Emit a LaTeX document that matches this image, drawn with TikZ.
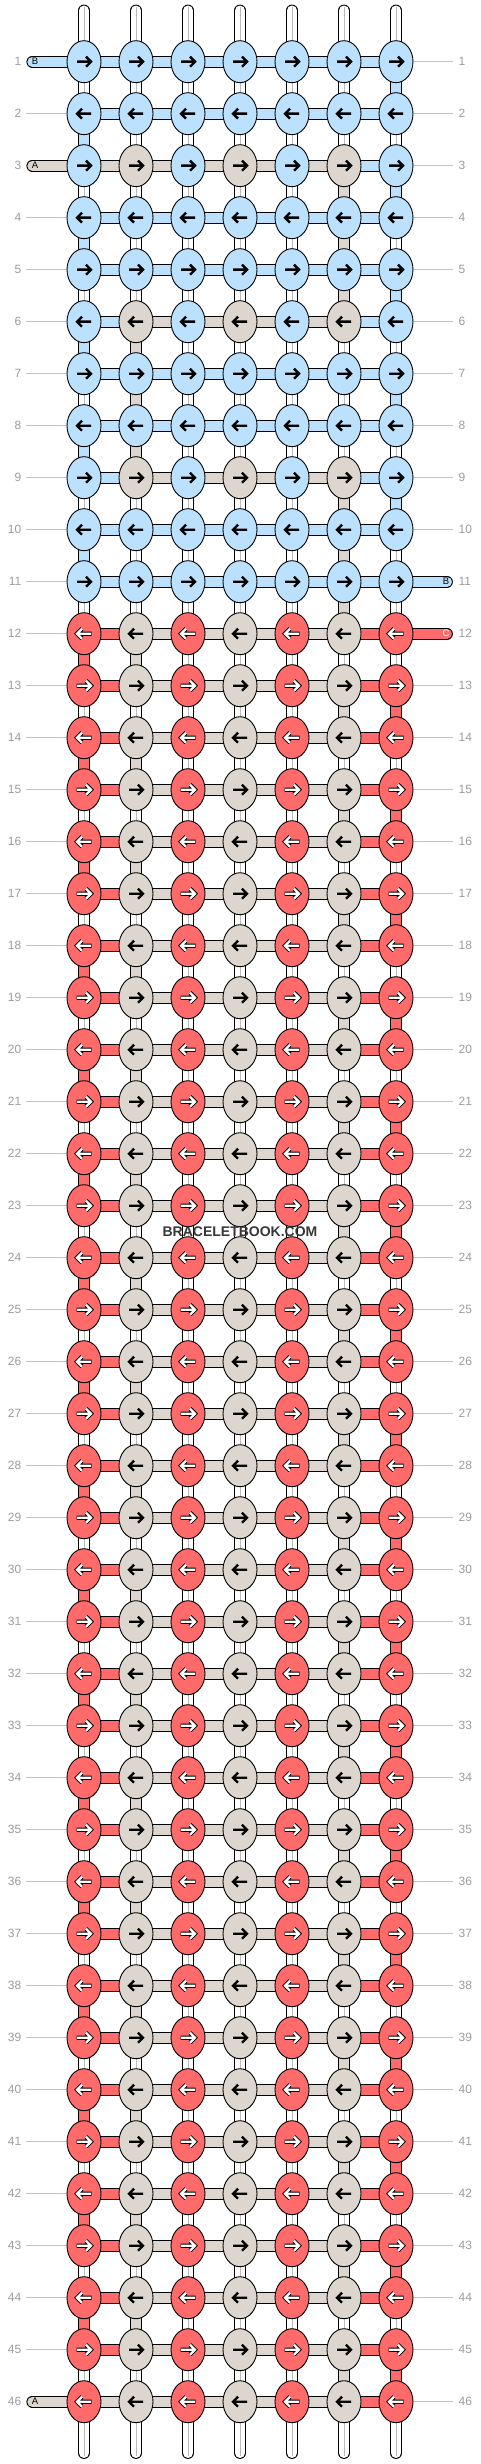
\documentclass[tikz,border=0pt]{standalone}
\usepackage{fontspec}
\setmainfont{Liberation Sans}
\usetikzlibrary{shapes.geometric}
\definecolor{bl}{RGB}{187,225,255}
\definecolor{tn}{RGB}{221,214,206}
\definecolor{rd}{RGB}{255,107,107}
\definecolor{labgray}{RGB}{155,155,155}
\definecolor{linegray}{RGB}{195,195,195}
\definecolor{midgray}{RGB}{185,185,185}
\definecolor{wmark}{RGB}{55,55,55}
\pgfdeclarelayer{bg}
\pgfsetlayers{bg,main}
\tikzset{
 knot/.style={ellipse, draw=black, line width=0.9pt, minimum width=34pt, minimum height=42pt, inner sep=0pt},
 conn/.style={draw=black, line width=0.9pt, double distance=10pt},
 mid/.style={draw=midgray, line width=0.8pt},
 gl/.style={draw=linegray, line width=0.8pt},
 lab/.style={text=labgray, font=\fontsize{12}{12}\selectfont, inner sep=0pt},
 taillab/.style={font=\fontsize{9.5}{9.5}\selectfont, inner sep=0pt},
 arrbk/.style={draw=black, line width=2.4pt},
 arrout/.style={draw=black, line width=4.2pt},
 arrwt/.style={draw=white, line width=2.2pt},
}
\def\allB{bl/0,bl/0,bl/0,bl/0,bl/0,bl/0,bl/0}
\def\BT{bl/0,tn/0,bl/0,tn/0,bl/0,tn/0,bl/0}
\def\RT{rd/1,tn/0,rd/1,tn/0,rd/1,tn/0,rd/1}
\def\hB{bl,bl,bl,bl,bl,bl}
\def\hBT{bl,tn,tn,tn,tn,bl}
\def\hTB{tn,tn,tn,tn,tn,bl}
\def\hRT{rd,tn,tn,tn,tn,rd}
\def\hTR{tn,tn,tn,tn,tn,rd}
\newcommand\knotrow[2]{%
  \pgfmathsetmacro\yy{61.7+52*(#1-1)}%
  \ifodd#1\relax\def\dd{1}\else\def\dd{-1}\fi
  \foreach \c/\a [count=\j] in #2 {%
    \node[knot,fill=\c] (k-#1-\j) at ({84+52*(\j-1)},\yy) {};
    \begin{scope}[shift={(k-#1-\j.center)},xscale=\dd]
      \ifnum\a=1
        \draw[arrout] (-7.5,0)--(6.5,0) (2,-5)--(7,0)--(2,5);
        \draw[arrwt] (-7,0)--(6.5,0) (2,-5)--(7,0)--(2,5);
      \else
        \draw[arrbk] (-7,0)--(6.5,0) (2,-5)--(7,0)--(2,5);
      \fi
    \end{scope}
  }%
}
\newcommand\hrow[2]{%
  \foreach \c [count=\j] in #2 {%
    \pgfmathtruncatemacro\jn{\j+1}%
    \draw[conn,double=\c] (k-#1-\j.center) -- (k-#1-\jn.center);
  }}
\newcommand\vc[3]{%
  \pgfmathtruncatemacro\inx{#1+1}%
  \draw[conn,double=#3] (k-#1-#2.center) -- (k-\inx-#2.center);}
\begin{document}
\begin{tikzpicture}[x=1pt,y=-1pt]
\useasboundingbox (0,0) rectangle (480,2464);
% knots
\foreach \i in {1,2,4,5,7,8,10,11} {\knotrow{\i}{\allB}}
\foreach \i in {3,6,9} {\knotrow{\i}{\BT}}
\foreach \i in {12,...,46} {\knotrow{\i}{\RT}}
% labels
\foreach \i in {1,...,46} {
  \pgfmathsetmacro\yy{61.7+52*(\i-1)}
  \node[lab,anchor=east] (ln-\i) at (21.5,\yy) {\i};
  \node[lab,anchor=west] (rn-\i) at (458.5,\yy) {\i};
  \coordinate (gl-\i) at (26,\yy);
  \coordinate (gr-\i) at (453.3,\yy);
}
% tail coordinates
\coordinate (tail-1) at (32.3,61.7);
\coordinate (tail-3) at (32.3,165.7);
\coordinate (tail-46) at (32.3,2401.7);
\coordinate (tail-11) at (447,581.7);
\coordinate (tail-12) at (447,633.7);
\foreach \j in {1,...,7} {
  \coordinate (top-\j) at ({84+52*(\j-1)},10.5);
  \coordinate (bot-\j) at ({84+52*(\j-1)},2453);
}
\begin{pgfonlayer}{bg}
  % label lines
  \foreach \i in {2,4,5,...,45} {\draw[gl] (gl-\i) -- (k-\i-1.west);}
  \foreach \i in {1,...,10,13,14,...,46} {\draw[gl] (k-\i-7.east) -- (gr-\i);}
  % top and bottom strings
  \foreach \j in {1,...,7} {
    \draw[conn,double=white,line cap=round] (top-\j) -- (k-1-\j.center);
    \draw[mid] ([yshift=3pt]top-\j) -- (k-1-\j.center);
    \draw[conn,double=white,line cap=round] (bot-\j) -- (k-46-\j.center);
    \draw[mid] ([yshift=-3pt]bot-\j) -- (k-46-\j.center);
  }
  % vertical base strings
  \foreach \i in {1,...,45} {
    \pgfmathtruncatemacro\inx{\i+1}
    \foreach \j in {1,...,7} {
      \draw[conn,double=white] (k-\i-\j.center) -- (k-\inx-\j.center);
      \draw[mid] (k-\i-\j.center) -- (k-\inx-\j.center);
    }
  }
  % coloured vertical links
  \vc{1}{7}{bl} \vc{2}{1}{bl} \vc{3}{6}{tn} \vc{3}{7}{bl}
  \vc{4}{1}{bl} \vc{4}{6}{tn} \vc{5}{6}{tn} \vc{5}{7}{bl}
  \vc{6}{1}{bl} \vc{6}{2}{tn} \vc{7}{2}{tn} \vc{7}{7}{bl}
  \vc{8}{1}{bl} \vc{8}{2}{tn} \vc{9}{6}{tn} \vc{9}{7}{bl}
  \vc{10}{1}{bl} \vc{10}{6}{tn} \vc{11}{6}{tn}
  \foreach \i in {12,14,...,44} {\vc{\i}{1}{rd}\vc{\i}{2}{tn}}
  \foreach \i in {13,15,...,45} {\vc{\i}{6}{tn}\vc{\i}{7}{rd}}
  % horizontal links
  \foreach \i in {1,2,4,5,7,8,10,11} {\hrow{\i}{\hB}}
  \hrow{3}{\hTB}
  \hrow{6}{\hBT}
  \hrow{9}{\hBT}
  \foreach \i in {12,...,45} {\hrow{\i}{\hRT}}
  \hrow{46}{\hTR}
  % tails
  \draw[conn,double=bl,line cap=round] (tail-1) -- (k-1-1.center);
  \draw[conn,double=tn,line cap=round] (tail-3) -- (k-3-1.center);
  \draw[conn,double=tn,line cap=round] (tail-46) -- (k-46-1.center);
  \draw[conn,double=bl,line cap=round] (tail-11) -- (k-11-7.center);
  \draw[conn,double=rd,line cap=round] (tail-12) -- (k-12-7.center);
\end{pgfonlayer}
\node[taillab] (tl-1) at (35,61.7) {B};
\node[taillab] (tl-3) at (35,165.7) {A};
\node[taillab] (tl-46) at (35,2401.7) {A};
\node[taillab] (tl-11) at (446,581.7) {B};
\node[taillab,text=white] (tl-12) at (446,633.7) {C};
\node[font=\bfseries\fontsize{14}{14}\selectfont,text=wmark,inner sep=0pt] (wm) at (240,1231.7) {BRACELETBOOK.COM};
\end{tikzpicture}
\end{document}
